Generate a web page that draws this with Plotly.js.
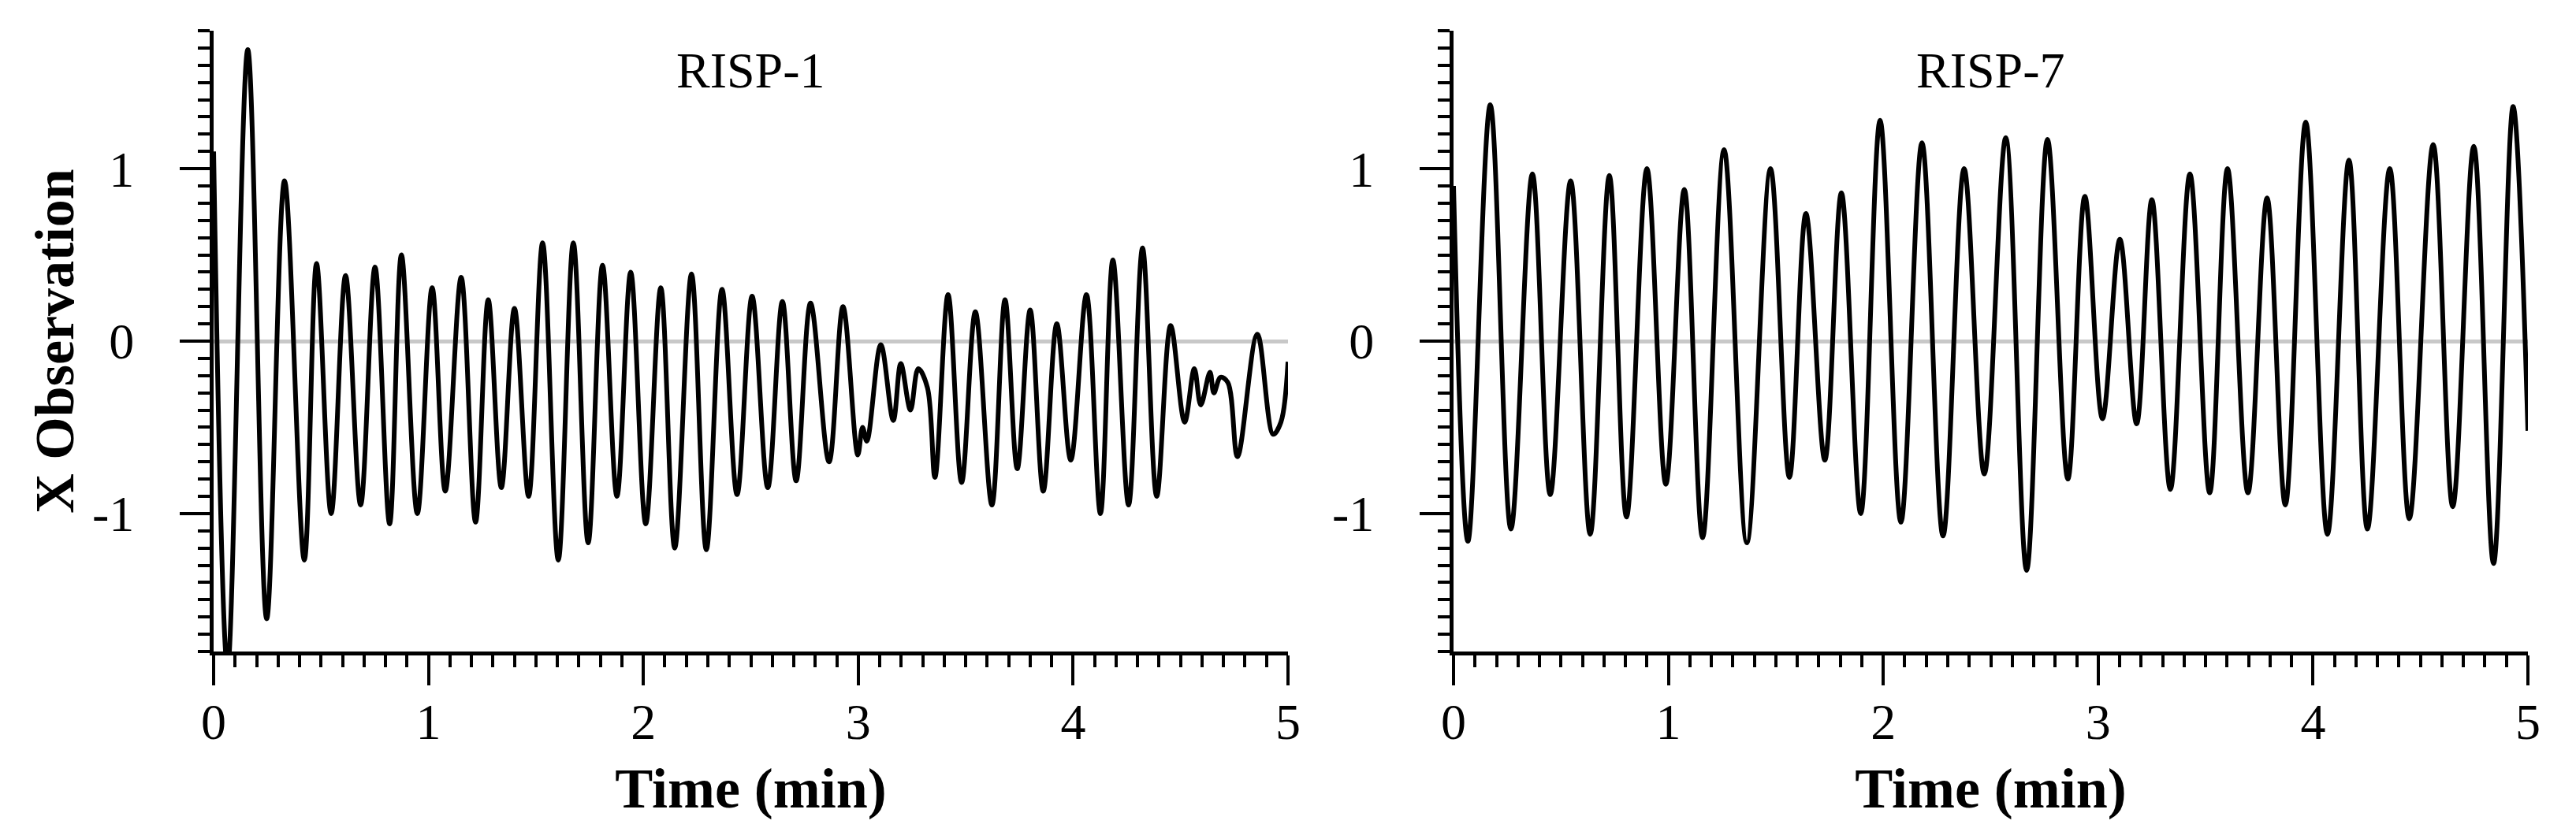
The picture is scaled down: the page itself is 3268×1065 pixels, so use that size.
<!DOCTYPE html>
<html>
<head>
<meta charset="utf-8">
<script src="https://cdn.plot.ly/plotly-3.0.1.min.js"></script>
<style>
  html, body { margin: 0; padding: 0; background: #fff; }
  #chart { width: 3268px; height: 1065px; }
</style>
</head>
<body>
<div id="chart"></div>
<script>
// RISP-1: peaks / troughs (time in min, X observation)
var risp1Time = [0, 0.065, 0.159, 0.247, 0.330, 0.422, 0.479, 0.547, 0.614, 0.684,
  0.751, 0.819, 0.874, 0.948, 1.017, 1.078, 1.152, 1.219, 1.278, 1.339,
  1.400, 1.466, 1.531, 1.604, 1.674, 1.743, 1.810, 1.877, 1.941, 2.011,
  2.081, 2.146, 2.224, 2.293, 2.366, 2.436, 2.506, 2.579, 2.647, 2.711,
  2.778, 2.864, 2.929, 2.998, 3.020, 3.040, 3.105, 3.163, 3.198, 3.243,
  3.279, 3.322, 3.357, 3.418, 3.481, 3.545, 3.622, 3.683, 3.740, 3.800,
  3.861, 3.924, 3.989, 4.062, 4.127, 4.185, 4.258, 4.323, 4.389, 4.454,
  4.519, 4.564, 4.594, 4.637, 4.655, 4.686, 4.720, 4.765, 4.857, 4.931,
  4.967, 5.000];
var risp1Value = [1.10, -1.90, 1.69, -1.61, 0.93, -1.27, 0.45, -1.00, 0.38, -0.95,
  0.43, -1.06, 0.50, -1.00, 0.31, -0.87, 0.37, -1.05, 0.24, -0.85,
  0.19, -0.90, 0.57, -1.27, 0.57, -1.17, 0.44, -0.90, 0.40, -1.06,
  0.31, -1.20, 0.39, -1.21, 0.30, -0.89, 0.26, -0.85, 0.23, -0.81,
  0.22, -0.70, 0.20, -0.66, -0.50, -0.58, -0.02, -0.46, -0.13, -0.40,
  -0.16, -0.27, -0.79, 0.27, -0.82, 0.17, -0.95, 0.24, -0.74, 0.18,
  -0.87, 0.10, -0.69, 0.27, -1.00, 0.47, -0.95, 0.54, -0.90, 0.09,
  -0.47, -0.16, -0.37, -0.18, -0.30, -0.21, -0.24, -0.67, 0.04, -0.54,
  -0.47, -0.12];

// RISP-7: peaks / troughs
var risp7Time = [0, 0.067, 0.171, 0.267, 0.367, 0.450, 0.545, 0.636, 0.725, 0.805,
  0.900, 0.988, 1.074, 1.159, 1.259, 1.365, 1.475, 1.563, 1.640, 1.728,
  1.805, 1.895, 1.985, 2.082, 2.180, 2.278, 2.376, 2.470, 2.570, 2.667,
  2.764, 2.859, 2.938, 3.020, 3.101, 3.179, 3.250, 3.336, 3.427, 3.519,
  3.602, 3.697, 3.786, 3.871, 3.966, 4.067, 4.167, 4.253, 4.357, 4.448,
  4.559, 4.650, 4.748, 4.840, 4.931, 5.000];
var risp7Value = [0.90, -1.16, 1.37, -1.09, 0.97, -0.89, 0.93, -1.12, 0.96, -1.02,
  1.00, -0.83, 0.88, -1.14, 1.11, -1.17, 1.00, -0.79, 0.74, -0.69,
  0.86, -1.00, 1.28, -1.05, 1.15, -1.13, 1.00, -0.77, 1.18, -1.33,
  1.17, -0.80, 0.84, -0.45, 0.59, -0.48, 0.82, -0.86, 0.97, -0.88,
  1.00, -0.88, 0.83, -0.95, 1.27, -1.12, 1.05, -1.09, 1.00, -1.03,
  1.14, -0.96, 1.13, -1.29, 1.36, -0.52];

var panelTitles = ['RISP-1', 'RISP-7'];
var xTickVals = [0, 1, 2, 3, 4, 5];
var xTickText = ['0', '1', '2', '3', '4', '5'];
var yTickVals = [-1, 0, 1];
var yTickText = ['-1', '0', '1'];

var FONT = 'Liberation Serif, Times New Roman, serif';

function xAxis(domain, anchor) {
  return {
    domain: domain, anchor: anchor, range: [0, 5],
    tickmode: 'array', tickvals: xTickVals, ticktext: xTickText,
    ticks: 'outside', ticklen: 38, tickwidth: 4, tickcolor: '#000',
    ticklabelstandoff: -9,
    minor: {dtick: 0.1, tick0: 0, ticks: 'outside', ticklen: 15, tickwidth: 4, tickcolor: '#000'},
    showline: true, linewidth: 5, linecolor: '#000',
    showgrid: false, zeroline: false,
    tickfont: {family: FONT, size: 64, color: '#000'},
    title: {text: 'Time (min)', standoff: 25, font: {family: FONT, size: 72, color: '#000', weight: 'bold'}}
  };
}

function yAxis(domain, anchor, withTitle) {
  var ax = {
    domain: domain, anchor: anchor, range: [-1.8, 1.8],
    tickmode: 'array', tickvals: yTickVals, ticktext: yTickText,
    ticks: 'outside', ticklen: 38, tickwidth: 4, tickcolor: '#000',
    ticklabelstandoff: 45,
    minor: {dtick: 0.1, tick0: 0, ticks: 'outside', ticklen: 15, tickwidth: 4, tickcolor: '#000'},
    showline: true, linewidth: 5, linecolor: '#000',
    showgrid: false,
    zeroline: true, zerolinecolor: '#c8c8c8', zerolinewidth: 5,
    tickfont: {family: FONT, size: 64, color: '#000'}
  };
  if (withTitle) {
    ax.title = {text: 'X Observation', standoff: 2, font: {family: FONT, size: 70, color: '#000', weight: 'bold'}};
  }
  return ax;
}

var lineStyle = {color: '#000', width: 6, shape: 'spline', smoothing: 1};

var traces = [
  {x: risp1Time, y: risp1Value, xaxis: 'x', yaxis: 'y', mode: 'lines', line: lineStyle, hoverinfo: 'skip'},
  {x: risp7Time, y: risp7Value, xaxis: 'x2', yaxis: 'y2', mode: 'lines', line: lineStyle, hoverinfo: 'skip'}
];

var dom1 = [271 / 3268, 1634 / 3268];
var dom2 = [1844 / 3268, 3207 / 3268];
var domY = [238 / 1065, 1026 / 1065];

var layout = {
  width: 3268, height: 1065,
  margin: {l: 0, r: 0, t: 0, b: 0},
  paper_bgcolor: '#fff', plot_bgcolor: '#fff',
  showlegend: false,
  font: {family: FONT, color: '#000'},
  xaxis: xAxis(dom1, 'y'),
  yaxis: yAxis(domY, 'x', true),
  xaxis2: xAxis(dom2, 'y2'),
  yaxis2: yAxis(domY, 'x2', false),
  annotations: [
    {text: panelTitles[0], xref: 'paper', yref: 'paper', x: (dom1[0] + dom1[1]) / 2, y: 0.916,
     xanchor: 'center', yanchor: 'middle', showarrow: false, font: {family: FONT, size: 64, color: '#000'}},
    {text: panelTitles[1], xref: 'paper', yref: 'paper', x: (dom2[0] + dom2[1]) / 2, y: 0.916,
     xanchor: 'center', yanchor: 'middle', showarrow: false, font: {family: FONT, size: 64, color: '#000'}}
  ]
};

Plotly.newPlot('chart', traces, layout, {displayModeBar: false, staticPlot: true});
</script>
</body>
</html>
